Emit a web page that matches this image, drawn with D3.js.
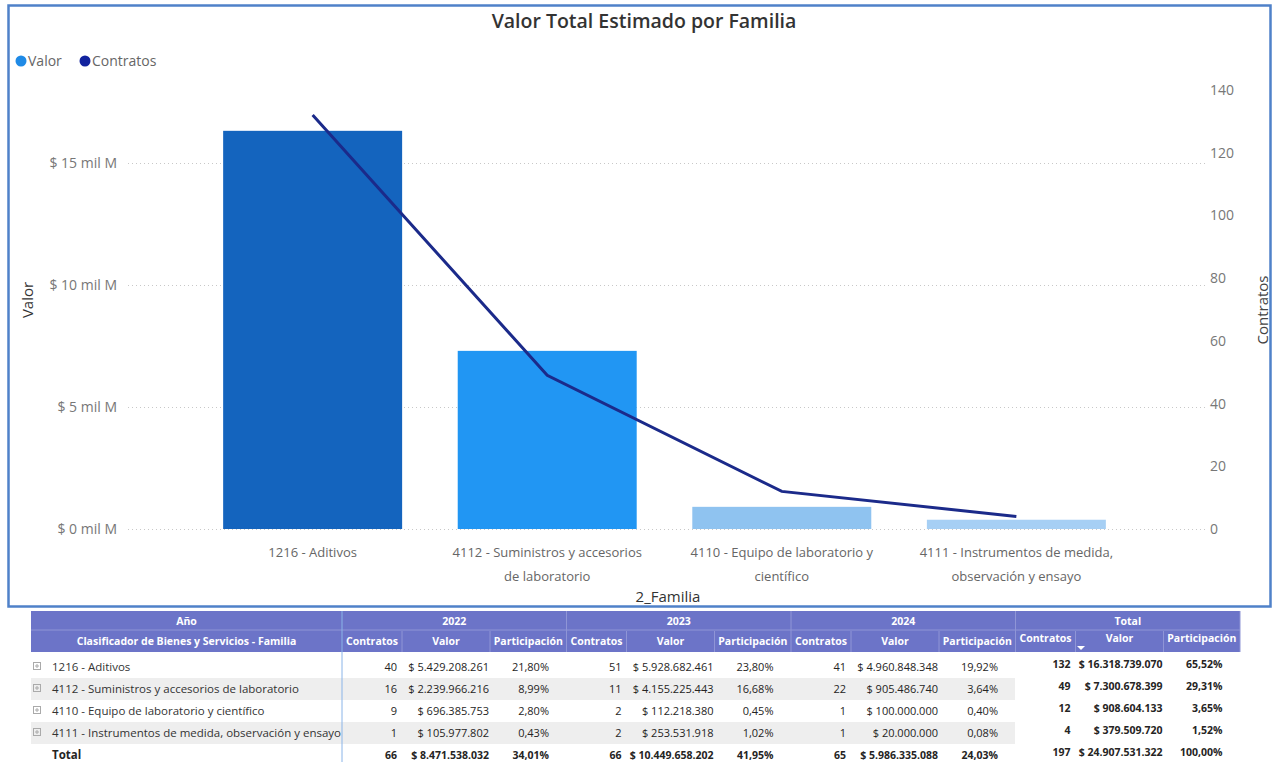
<!DOCTYPE html>
<html>
<head>
<meta charset="utf-8">
<script src="https://cdn.jsdelivr.net/npm/d3@7"></script>
<style>
  body { margin: 0; background: #fff; }
  svg text { font-family: "Segoe UI", "Open Sans", sans-serif; }
</style>
</head>
<body>
<script>
// datos del grafico (totales por familia)
const familias = [
  "1216 - Aditivos",
  "4112 - Suministros y accesorios de laboratorio",
  "4110 - Equipo de laboratorio y científico",
  "4111 - Instrumentos de medida, observación y ensayo"
]
const valorTotal = [16318739070, 7300678399, 908604133, 379509720]
const contratosTotal = [132, 49, 12, 4]
const partTotal = [65.52, 29.31, 3.65, 1.52]

const valorTicks = [0, 5e9, 10e9, 15e9]
const contratosTicks = [0, 20, 40, 60, 80, 100, 120, 140]

// datos de la tabla por año
const anios = ["2022", "2023", "2024"]
const contratos2022 = [40, 16, 9, 1]
const valor2022 = [5429208261, 2239966216, 696385753, 105977802]
const part2022 = [21.80, 8.99, 2.80, 0.43]
const contratos2023 = [51, 11, 2, 2]
const valor2023 = [5928682461, 4155225443, 112218380, 253531918]
const part2023 = [23.80, 16.68, 0.45, 1.02]
const contratos2024 = [41, 22, 1, 1]
const valor2024 = [4960848348, 905486740, 100000000, 20000000]
const part2024 = [19.92, 3.64, 0.40, 0.08]
// fila Total: 2022, 2023, 2024, Total
const totalContratos = [66, 66, 65, 197]
const totalValor = [8471538032, 10449658202, 5986335088, 24907531322]
const totalPart = [34.01, 41.95, 24.03, 100.00]

const w = 1273
const h = 762

const loc = d3.formatLocale({ decimal: ",", thousands: ".", grouping: [3], currency: ["$ ", ""] })
const fmtMoney = loc.format("$,.0f")
const fmtPct = d => loc.format(",.2f")(d) + "%"

const svg = d3.select("body")
  .append("svg")
  .attr("width", w)
  .attr("height", h)

// marco del visual
svg.append("rect")
  .attr("x", 8.5)
  .attr("y", 5.5)
  .attr("width", 1262)
  .attr("height", 601)
  .attr("fill", "#fff")
  .attr("stroke", "#4f81c9")
  .attr("stroke-width", 2.5)

svg.append("text")
  .attr("x", 644)
  .attr("y", 28)
  .attr("text-anchor", "middle")
  .style("font-size", "19.5px")
  .style("font-weight", 600)
  .attr("fill", "#333")
  .text("Valor Total Estimado por Familia")

// leyenda
const legend = [["Valor", "#1f8ae6", 21], ["Contratos", "#12239e", 85]]
legend.forEach(l => {
  svg.append("circle").attr("cx", l[2]).attr("cy", 61).attr("r", 5.5).attr("fill", l[1])
  svg.append("text")
    .attr("x", l[2] + 7)
    .attr("y", 66)
    .style("font-size", "14px")
    .attr("fill", "#666")
    .text(l[0])
})

const xScale = d3.scaleBand()
  .domain(familias)
  .range([195, 1134])
  .paddingInner(0.237)
  .paddingOuter(0.12)

const yScale = d3.scaleLinear()
  .domain([0, 15e9])
  .range([529, 163])

const yScale2 = d3.scaleLinear()
  .domain([0, 140])
  .range([529, 90])

const yAxis = d3.axisLeft(yScale)
  .tickValues(valorTicks)
  .tickSize(-(1205 - 128))
  .tickPadding(11)
  .tickFormat(d => "$ " + d / 1e9 + " mil M")

const gy = svg.append("g")
  .attr("transform", "translate(128,0)")
  .call(yAxis)
gy.select(".domain").remove()
gy.selectAll("line").attr("stroke", "#c8c8c8").attr("stroke-dasharray", "1,3")
gy.selectAll("text").attr("fill", "#777").style("font-size", "14px")

const yAxis2 = d3.axisRight(yScale2)
  .tickValues(contratosTicks)
  .tickSize(0)
  .tickPadding(5)

const gy2 = svg.append("g")
  .attr("transform", "translate(1205,0)")
  .call(yAxis2)
gy2.select(".domain").remove()
gy2.selectAll("text").attr("fill", "#777").style("font-size", "14px")

function wrap(text, width) {
  text.each(function () {
    const t = d3.select(this)
    const words = t.text().split(/\s+/).reverse()
    const y = t.attr("y")
    const dy = parseFloat(t.attr("dy"))
    let line = []
    let n = 0
    let word
    let tspan = t.text(null).append("tspan").attr("x", 0).attr("y", y).attr("dy", dy + "em")
    while ((word = words.pop())) {
      line.push(word)
      tspan.text(line.join(" "))
      if (tspan.node().getComputedTextLength() > width && line.length > 1) {
        line.pop()
        tspan.text(line.join(" "))
        line = [word]
        tspan = t.append("tspan").attr("x", 0).attr("y", y)
          .attr("dy", ++n * 1.8 + dy + "em").text(word)
      }
    }
  })
}

const gx = svg.append("g")
  .attr("transform", "translate(0,529)")
  .call(d3.axisBottom(xScale).tickSize(0).tickPadding(19))
gx.select(".domain").remove()
gx.selectAll("text")
  .attr("fill", "#666")
  .style("font-size", "13px")
  .call(wrap, 200)

svg.append("text")
  .attr("transform", "translate(33,300) rotate(-90)")
  .attr("text-anchor", "middle")
  .style("font-size", "15px")
  .attr("fill", "#333")
  .text("Valor")

svg.append("text")
  .attr("transform", "translate(1268,310) rotate(-90)")
  .attr("text-anchor", "middle")
  .style("font-size", "15px")
  .attr("fill", "#444")
  .text("Contratos")

svg.append("text")
  .attr("x", 668)
  .attr("y", 602)
  .attr("text-anchor", "middle")
  .style("font-size", "15px")
  .attr("fill", "#333")
  .text("2_Familia")

// color por valor (degradado tipo Power BI)
const barColor = d3.scaleLinear()
  .domain([379509720, 908604133, 7300678399, 16318739070])
  .range(["#a6cff4", "#8fc3f0", "#2196f3", "#1464be"])

const barData = familias.map((f, i) => ({ familia: f, valor: valorTotal[i], contratos: contratosTotal[i] }))

svg.selectAll(".bar")
  .data(barData)
  .enter()
  .append("rect")
  .attr("class", "bar")
  .attr("x", d => xScale(d.familia))
  .attr("y", d => yScale(d.valor))
  .attr("width", xScale.bandwidth())
  .attr("height", d => yScale(0) - yScale(d.valor))
  .attr("fill", d => barColor(d.valor))

const line = d3.line()
  .x(d => xScale(d.familia) + xScale.bandwidth() / 2)
  .y(d => yScale2(d.contratos))

svg.append("path")
  .datum(barData)
  .attr("d", line)
  .attr("fill", "none")
  .attr("stroke", "#1b2a8a")
  .attr("stroke-width", 3)

// ---- tabla ----
const groups = [
  { titulo: anios[0], contratos: contratos2022, valor: valor2022, part: part2022 },
  { titulo: anios[1], contratos: contratos2023, valor: valor2023, part: part2023 },
  { titulo: anios[2], contratos: contratos2024, valor: valor2024, part: part2024 },
  { titulo: "Total", contratos: contratosTotal, valor: valorTotal, part: partTotal }
]
groups.forEach((g, i) => {
  g.tc = totalContratos[i]
  g.tv = totalValor[i]
  g.tp = totalPart[i]
})

const tLeft = 31
const tSplit = 342
const groupW = 224.5
const headerFill = "#6c74c8"
const rowTop = 656
const rowH = 22

const table = svg.append("g")

table.append("rect")
  .attr("x", tLeft).attr("y", 611)
  .attr("width", 1240 - tLeft).attr("height", 41)
  .attr("fill", headerFill)

// franjas grises
;[1, 3].forEach(i => {
  table.append("rect")
    .attr("x", tLeft).attr("y", rowTop + i * rowH)
    .attr("width", 1015 - tLeft).attr("height", rowH)
    .attr("fill", "#eeeeee")
})

table.append("line")
  .attr("x1", tLeft).attr("x2", 1240)
  .attr("y1", 630).attr("y2", 630)
  .attr("stroke", "#8f95d6")

table.append("line")
  .attr("x1", tSplit).attr("x2", tSplit)
  .attr("y1", 611).attr("y2", 762)
  .attr("stroke", "#8ab4e8")

const headText = (x, y, txt) => table.append("text")
  .attr("x", x).attr("y", y)
  .attr("text-anchor", "middle")
  .attr("fill", "#fff")
  .style("font-size", "10.5px")
  .style("font-weight", 700)
  .text(txt)

headText((tLeft + tSplit) / 2, 625, "Año")
headText((tLeft + tSplit) / 2, 645, "Clasificador de Bienes y Servicios - Familia")

const subs = [0, 60, 148, 224.5]

groups.forEach((g, gi) => {
  const x0 = tSplit + gi * groupW
  const off = gi === 3 ? -3 : 0
  headText(x0 + groupW / 2, 625, g.titulo)
  table.append("line")
    .attr("x1", x0 + groupW).attr("x2", x0 + groupW)
    .attr("y1", 611).attr("y2", 652)
    .attr("stroke", "#8f95d6")
  ;["Contratos", "Valor", "Participación"].forEach((c, ci) => {
    headText(x0 + (subs[ci] + subs[ci + 1]) / 2, 645 + off, c)
    if (ci > 0) {
      table.append("line")
        .attr("x1", x0 + subs[ci]).attr("x2", x0 + subs[ci])
        .attr("y1", 631).attr("y2", 652)
        .attr("stroke", "#8f95d6")
    }
  })

  const bold = gi === 3
  const cells = (vals, fn, dx) => {
    table.selectAll(null)
      .data(vals)
      .enter()
      .append("text")
      .attr("x", x0 + dx)
      .attr("y", (d, i) => rowTop + i * rowH + 15 + off)
      .attr("text-anchor", "end")
      .attr("fill", "#252423")
      .style("font-size", (d, i) => (i === 4 || bold) ? "10.5px" : "11px")
      .style("font-weight", (d, i) => (i === 4 || bold) ? 700 : 400)
      .text(fn)
  }
  cells(g.contratos.concat([g.tc]), d => d, 55)
  cells(g.valor.concat([g.tv]), fmtMoney, 147)
  cells(g.part.concat([g.tp]), fmtPct, 207)
})

// flecha de orden
table.append("path")
  .attr("d", "M1077,646 L1085,646 L1081,650 Z")
  .attr("fill", "#fff")

// primera columna
table.selectAll(".fam")
  .data(familias)
  .enter()
  .append("g")
  .attr("class", "fam")
  .each(function (d, i) {
    const g = d3.select(this)
    const cy = rowTop + i * rowH + 11
    g.append("rect")
      .attr("x", 33.5).attr("y", cy - 4.5)
      .attr("width", 7).attr("height", 7)
      .attr("fill", "none").attr("stroke", "#aaa")
    g.append("path")
      .attr("d", `M35,${cy - 1} h4 M37,${cy - 3} v4`)
      .attr("stroke", "#aaa")
    g.append("text")
      .attr("x", 52).attr("y", cy + 4)
      .attr("fill", "#333")
      .style("font-size", "11.5px")
      .text(d)
  })

table.append("text")
  .attr("x", 52).attr("y", rowTop + 4 * rowH + 15)
  .attr("fill", "#252423")
  .style("font-size", "11.5px")
  .style("font-weight", 700)
  .text("Total")
</script>
</body>
</html>
